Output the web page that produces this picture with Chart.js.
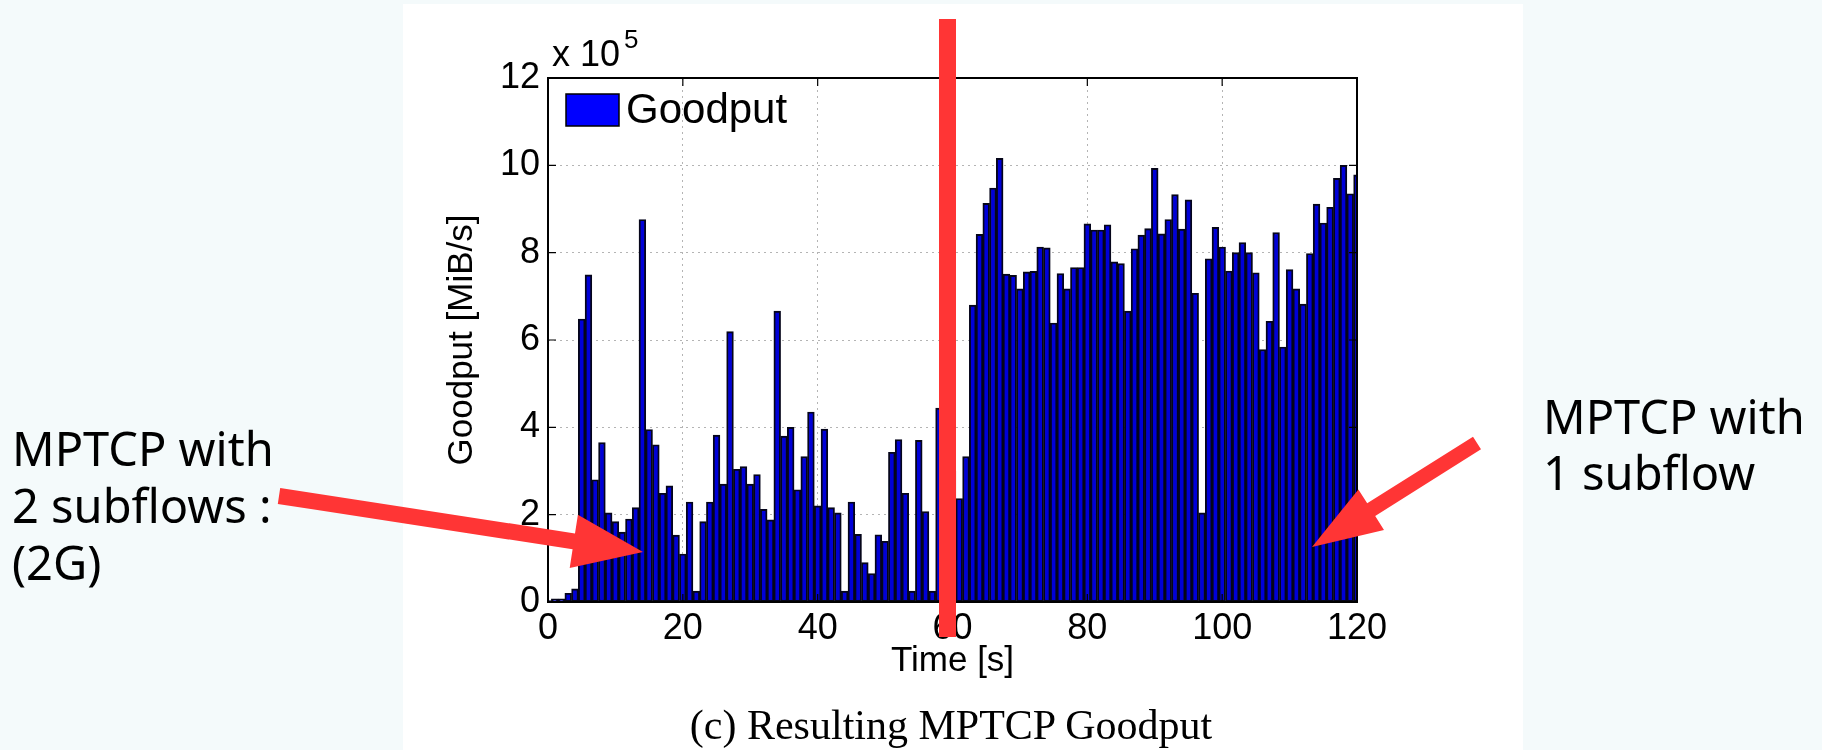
<!DOCTYPE html>
<html>
<head>
<meta charset="utf-8">
<title>Resulting MPTCP Goodput</title>
<script src="https://cdn.jsdelivr.net/npm/chart.js@4.4.1/dist/chart.umd.min.js"></script>
<style>
  html, body { margin: 0; padding: 0; }
  body { width: 1822px; height: 750px; background: #f4fafb; position: relative; overflow: hidden; }
  #paper { position: absolute; left: 403px; top: 4px; width: 1120px; height: 746px; background: #fff; }
  #wrap { position: absolute; left: 0; top: 0; width: 1822px; height: 750px; }
  #overlay { position: absolute; left: 0; top: 0; pointer-events: none; }
  .slide { font-family: 'Noto Sans', 'Open Sans', sans-serif; font-size: 47px; fill: #000; }
</style>
</head>
<body>
<div id="paper"></div>
<div id="wrap"><canvas id="goodput-chart"></canvas></div>
<svg id="overlay" width="1822" height="750">
  <text x="552" y="66" font-family="'Liberation Sans', Arial, sans-serif" font-size="36">x 10</text>
  <text x="624" y="48" font-family="'Liberation Sans', Arial, sans-serif" font-size="26">5</text>
  <text x="951" y="739" text-anchor="middle" font-family="'Liberation Serif', 'Times New Roman', serif" font-size="42">(c) Resulting MPTCP Goodput</text>
  <rect x="939" y="19" width="17" height="618" fill="#ff3535"></rect>
  <polygon id="arrow-left" fill="#ff3535"></polygon>
  <polygon id="arrow-right" fill="#ff3535"></polygon>
  <text class="slide" x="12" y="466">MPTCP with</text>
  <text class="slide" x="12" y="523">2 subflows :</text>
  <text class="slide" x="12" y="580">(2G)</text>
  <text class="slide" x="1543" y="434">MPTCP with</text>
  <text class="slide" x="1543" y="490">1 subflow</text>
</svg>
<script>
  // time axis (s) and goodput per second, in units of 10^5
  var seconds = [];
  for (var s = 0; s <= 120; s++) seconds.push(s);

  var goodput = [
    0.03, 0.07, 0.07, 0.2, 0.3, 6.48, 7.49, 2.8, 3.65, 2.04,
    1.84, 1.6, 1.9, 2.16, 8.76, 3.95, 3.6, 2.49, 2.66, 1.53,
    1.1, 2.29, 0.25, 1.84, 2.29, 3.82, 2.7, 6.19, 3.04, 3.1,
    2.7, 2.92, 2.12, 1.88, 6.66, 3.8, 4.0, 2.57, 3.33, 4.35,
    2.2, 3.96, 2.16, 2.04, 0.25, 2.29, 1.55, 0.9, 0.65, 1.54,
    1.39, 3.43, 3.72, 2.49, 0.25, 3.7, 2.07, 0.25, 4.44, 2.5,
    3.0, 2.37, 3.33, 6.8, 8.42, 9.13, 9.48, 10.16, 7.51, 7.48,
    7.17, 7.56, 7.57, 8.13, 8.11, 6.39, 7.52, 7.17, 7.66, 7.66,
    8.66, 8.52, 8.52, 8.64, 7.79, 7.75, 6.66, 8.09, 8.4, 8.55,
    9.93, 8.43, 8.76, 9.33, 8.54, 9.21, 7.07, 2.04, 7.86, 8.58,
    8.13, 7.58, 8.0, 8.23, 8.0, 7.54, 5.78, 6.43, 8.46, 5.84,
    7.61, 7.17, 6.82, 7.98, 9.11, 8.68, 9.04, 9.7, 10.0, 9.35,
    9.78
  ];

  var xTicks = [0, 20, 40, 60, 80, 100, 120];
  var yTicks = [0, 2, 4, 6, 8, 10, 12];

  var tickFont = { family: "'Liberation Sans', Arial, sans-serif", size: 36 };
  var titleFont = { family: "'Liberation Sans', Arial, sans-serif", size: 35 };

  // red annotation arrows
  function arrowPoints(x0, y0, x1, y1, w, headLen, headW) {
    var len = Math.hypot(x1 - x0, y1 - y0);
    var ux = (x1 - x0) / len, uy = (y1 - y0) / len;
    var px = -uy, py = ux;
    var bx = x1 - ux * headLen, by = y1 - uy * headLen;
    var pts = [
      [x0 + px * w / 2, y0 + py * w / 2],
      [bx + px * w / 2, by + py * w / 2],
      [bx + px * headW / 2, by + py * headW / 2],
      [x1, y1],
      [bx - px * headW / 2, by - py * headW / 2],
      [bx - px * w / 2, by - py * w / 2],
      [x0 - px * w / 2, y0 - py * w / 2]
    ];
    return pts.map(function (p) { return p[0].toFixed(1) + ',' + p[1].toFixed(1) }).join(' ');
  }
  document.getElementById('arrow-left').setAttribute('points', arrowPoints(279, 496, 643, 552, 16, 70, 54));
  document.getElementById('arrow-right').setAttribute('points', arrowPoints(1477, 443, 1312, 547, 15, 70, 48));

  // MATLAB-like frame: box, inward ticks and a boxless legend
  var matlabFrame = {
    id: 'matlabFrame',
    afterDatasetsDraw: function (chart) {
      var ctx = chart.ctx;
      var area = chart.chartArea;
      var x = chart.scales.x, y = chart.scales.y;
      ctx.save();
      ctx.strokeStyle = '#000';
      ctx.lineWidth = 1.2;
      ctx.beginPath();
      xTicks.forEach(function (v) {
        var px = x.getPixelForValue(v);
        ctx.moveTo(px, area.bottom); ctx.lineTo(px, area.bottom - 8);
        ctx.moveTo(px, area.top); ctx.lineTo(px, area.top + 8);
      });
      yTicks.forEach(function (v) {
        var py = y.getPixelForValue(v);
        ctx.moveTo(area.left, py); ctx.lineTo(area.left + 8, py);
        ctx.moveTo(area.right, py); ctx.lineTo(area.right - 8, py);
      });
      ctx.stroke();
      ctx.lineWidth = 2;
      ctx.strokeRect(area.left, area.top, area.right - area.left, area.bottom - area.top);

      // legend
      var ds = chart.data.datasets[0];
      ctx.fillStyle = '#0000ff';
      ctx.fillRect(566, 94, 53, 32);
      ctx.lineWidth = 1.5;
      ctx.strokeStyle = '#000';
      ctx.strokeRect(566, 94, 53, 32);
      ctx.fillStyle = '#000';
      ctx.font = "42px 'Liberation Sans', Arial, sans-serif";
      ctx.textBaseline = 'middle';
      ctx.fillText(ds.label, 626, 111);
      ctx.restore();
    }
  };

  var ctx = document.getElementById('goodput-chart').getContext('2d');

  var goodputChart = new Chart(ctx, {
    type: 'bar',
    data: {
      datasets: [{
        label: 'Goodput',
        data: seconds.map(function (t, i) { return { x: t, y: goodput[i] } }),
        backgroundColor: '#0000d8',
        borderColor: '#05051a',
        borderWidth: 1.9,
        borderSkipped: false,
        barPercentage: 1,
        categoryPercentage: 1,
        clip: 0
      }]
    },
    options: {
      responsive: true,
      maintainAspectRatio: false,
      animation: false,
      layout: { padding: { left: 403, top: 78, right: 465, bottom: 0 } },
      plugins: {
        legend: { display: false },
        tooltip: { enabled: false }
      },
      scales: {
        x: {
          type: 'linear',
          min: 0,
          max: 120,
          offset: false,
          afterFit: function (scale) { scale.height = 148 },
          grid: { offset: false, color: '#b4b4b4', drawTicks: false },
          border: { display: false, dash: [2, 4] },
          ticks: { stepSize: 20, color: '#000', font: tickFont, padding: 5, maxRotation: 0 },
          title: { display: true, text: 'Time [s]', color: '#000', font: titleFont, padding: { bottom: 68 } }
        },
        y: {
          min: 0,
          max: 12,
          afterFit: function (scale) { scale.width = 145 },
          grid: { color: '#b4b4b4', drawTicks: false },
          border: { display: false, dash: [2, 4] },
          ticks: { stepSize: 2, color: '#000', font: tickFont, padding: 8 },
          title: { display: true, text: 'Goodput [MiB/s]', color: '#000', font: titleFont, padding: { top: 38 } }
        }
      }
    },
    plugins: [matlabFrame]
  });
</script>
</body>
</html>
